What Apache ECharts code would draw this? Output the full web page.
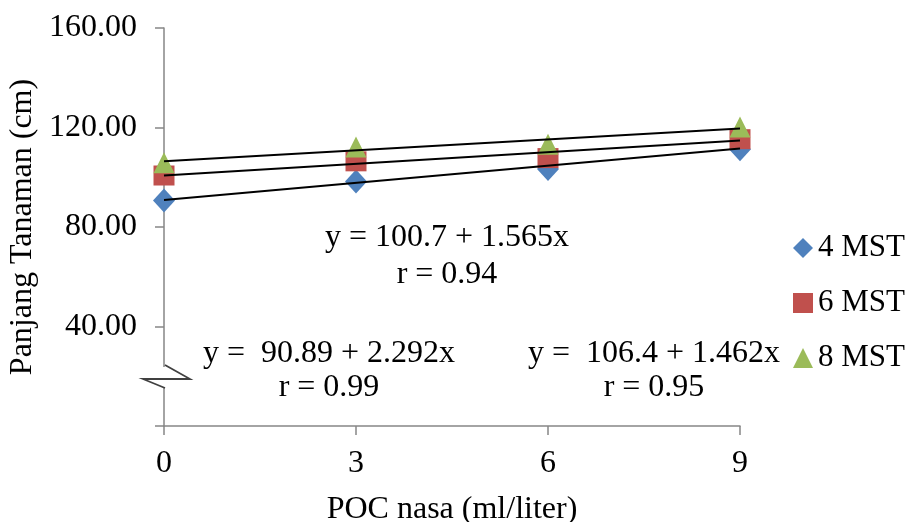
<!DOCTYPE html>
<html>
<head>
<meta charset="utf-8">
<script src="https://cdn.jsdelivr.net/npm/echarts@6/dist/echarts.min.js"></script>
<style>html,body{margin:0;padding:0;background:#fff;}#c{width:907px;height:522px;}</style>
</head>
<body>
<div id="c"></div>
<script>
// ---- data ----
var xValues = [0, 3, 6, 9];
var seriesNames = ['4 MST', '6 MST', '8 MST'];
var mst4 = [90.7, 98.3, 103.3, 111.3];
var mst6 = [100.7, 106.4, 107.7, 115.3];
var mst8 = [105.8, 112.2, 113.3, 120.2];
// trend line end values (at x = 0 and x = 9)
var trendX = [0, 9];
var trend4 = [90.89, 111.52];
var trend6 = [100.7, 114.79];
var trend8 = [106.4, 119.56];
var yTicks = [0, 40, 80, 120, 160];
var eqTexts = [
  ['y =  90.89 + 2.292x', 'r = 0.99'],
  ['y = 100.7 + 1.565x', 'r = 0.94'],
  ['y =  106.4 + 1.462x', 'r = 0.95']
];

var FONT = "'Liberation Serif','Times New Roman',serif";
var FS = 32;
var AX = '#868686';
function pairs(xs, ys){ return xs.map(function(x,i){ return [x, ys[i]]; }); }

var chart = echarts.init(document.getElementById('c'), null, {renderer:'canvas'});
var option = {
  animation: false,
  backgroundColor: '#fff',
  grid: {left: 164, right: 167, top: 28, bottom: 96, containLabel: false, outerBoundsMode: 'none'},
  xAxis: {
    type: 'value', min: 0, max: 9, interval: 3,
    name: 'POC nasa (ml/liter)', nameLocation: 'middle', nameGap: 68,
    nameTextStyle: {fontFamily: FONT, fontSize: FS, color: '#000'},
    axisLine: {show: true, onZero: false, lineStyle: {color: AX, width: 1.5}},
    axisTick: {show: true, inside: false, length: 9, lineStyle: {color: AX, width: 1.5}},
    axisLabel: {fontFamily: FONT, fontSize: FS, color: '#000', margin: 22},
    splitLine: {show: false}
  },
  yAxis: {
    type: 'value', min: yTicks[0], max: yTicks[yTicks.length-1], interval: 40,
    name: 'Panjang Tanaman (cm)', nameLocation: 'middle', nameGap: 122,
    nameTextStyle: {fontFamily: FONT, fontSize: FS, color: '#000'},
    axisLine: {show: true, lineStyle: {color: AX, width: 1.5}},
    axisTick: {show: true, inside: false, length: 9, lineStyle: {color: AX, width: 1.5}},
    axisLabel: {fontFamily: FONT, fontSize: FS, color: '#000', margin: 27,
      formatter: function(v){ return v === 0 ? '' : v.toFixed(2); }},
    splitLine: {show: false}
  },
  legend: {
    orient: 'vertical', left: 788, top: 227, itemWidth: 20, itemHeight: 20, itemGap: 23,
    data: [
      {name: seriesNames[0], icon: 'diamond'},
      {name: seriesNames[1], icon: 'rect'},
      {name: seriesNames[2], icon: 'triangle'}
    ],
    textStyle: {fontFamily: FONT, fontSize: 31, color: '#000', lineHeight: 32}
  },
  series: [
    {name: seriesNames[0], type: 'scatter', symbol: 'diamond', symbolSize: [22, 24],
     itemStyle: {color: '#4F81BD', opacity: 1}, data: pairs(xValues, mst4), z: 2},
    {name: seriesNames[1], type: 'scatter', symbol: 'rect', symbolSize: [21, 20],
     itemStyle: {color: '#C0504D', opacity: 1}, data: pairs(xValues, mst6), z: 3},
    {name: seriesNames[2], type: 'scatter', symbol: 'triangle', symbolSize: [21, 21],
     itemStyle: {color: '#9BBB59', opacity: 1}, data: pairs(xValues, mst8), z: 4},
    {name: 't4', type: 'line', symbol: 'none', data: pairs(trendX, trend4), lineStyle: {color: '#000', width: 2}, z: 10},
    {name: 't6', type: 'line', symbol: 'none', data: pairs(trendX, trend6), lineStyle: {color: '#000', width: 2}, z: 10},
    {name: 't8', type: 'line', symbol: 'none', data: pairs(trendX, trend8), lineStyle: {color: '#000', width: 2}, z: 10}
  ],
  graphic: [
    // axis break mark
    {type: 'rect', shape: {x: 143, y: 367, width: 58, height: 20}, style: {fill: '#fff'}, z: 100},
    {type: 'polyline', shape: {points: [[165,365],[190,379],[143,379],[165,388]]},
     style: {stroke: '#404040', lineWidth: 1.8, fill: null}, z: 101},
    {type: 'text', x: 329, y: 354, style: {text: eqTexts[0][0], font: FS + 'px ' + FONT, fill: '#000', align: 'center', verticalAlign: 'middle'}, z: 50},
    {type: 'text', x: 329, y: 388, style: {text: eqTexts[0][1], font: FS + 'px ' + FONT, fill: '#000', align: 'center', verticalAlign: 'middle'}, z: 50},
    {type: 'text', x: 447, y: 238, style: {text: eqTexts[1][0], font: FS + 'px ' + FONT, fill: '#000', align: 'center', verticalAlign: 'middle'}, z: 50},
    {type: 'text', x: 447, y: 275, style: {text: eqTexts[1][1], font: FS + 'px ' + FONT, fill: '#000', align: 'center', verticalAlign: 'middle'}, z: 50},
    {type: 'text', x: 654, y: 354, style: {text: eqTexts[2][0], font: FS + 'px ' + FONT, fill: '#000', align: 'center', verticalAlign: 'middle'}, z: 50},
    {type: 'text', x: 654, y: 388, style: {text: eqTexts[2][1], font: FS + 'px ' + FONT, fill: '#000', align: 'center', verticalAlign: 'middle'}, z: 50}
  ]
};
chart.setOption(option);
</script>
</body>
</html>
